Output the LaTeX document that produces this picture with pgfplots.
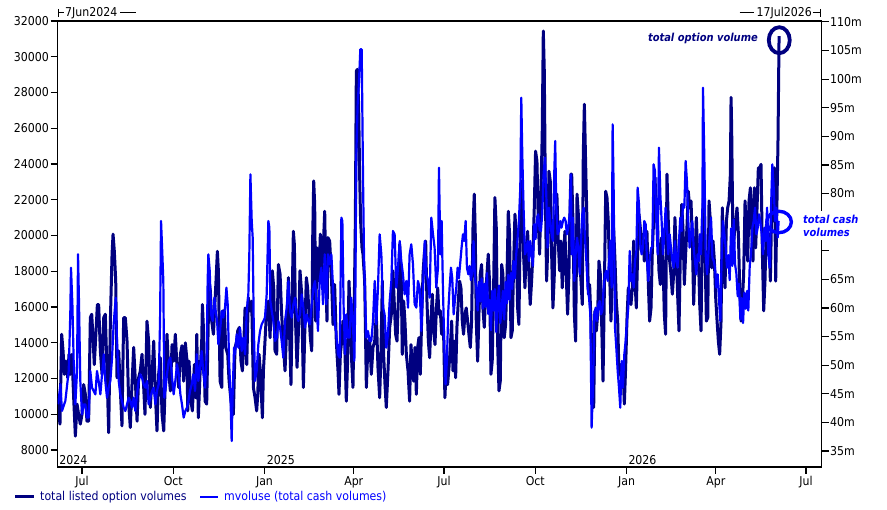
\documentclass[border=0pt]{standalone}
\usepackage{pgfplots}
\pgfplotsset{compat=1.18}
\usepackage{fontspec}
\setmainfont{DejaVu Sans Condensed}
\definecolor{navy}{RGB}{0,0,128}
\definecolor{cblue}{RGB}{0,0,255}
\newcommand{\lblfont}{\fontsize{12.2bp}{14bp}\selectfont}
\newcommand{\annfont}{\fontsize{11bp}{13bp}\selectfont\bfseries\itshape}
\begin{document}
\begin{tikzpicture}[x=1bp,y=1bp]
\path[use as bounding box] (0,0) rectangle (887,510);
% ---------- right axis: total listed option volumes (navy) ----------
\begin{axis}[
  at={(57.5bp,43bp)}, anchor=south west,
  scale only axis, width=764bp, height=446bp,
  xmin=-0.7, xmax=769.6, ymin=32.2, ymax=110.16,
  axis x line=none, axis y line*=right,
  ytick={35,40,45,50,55,60,65,70,75,80,85,90,95,100,105,110},
  yticklabels={35m,40m,45m,50m,55m,60m,65m,{},{},80m,85m,90m,95m,100m,105m,110m},
  tick align=outside, major tick length=7bp,
  tick style={black, line width=1.2bp},
  axis line style={black, line width=1.3bp},
  ticklabel style={font=\lblfont},
  yticklabel style={inner xsep=1.5bp},
  clip=true,
]
\addplot[navy, line width=3bp, line join=round, mark=none] coordinates {
(0,44.3)(0.5,41.7)(1.8,39.7)(3.5,55.4)(4.9,52.5)(6.2,48.4)(7.9,50.7)(9.6,47.8)(10.9,51.9)(12.2,48.4)(13.9,51.9)(15.6,44.3)(17.3,37.6)(19.0,43.2)(20.6,41.4)(22.3,39.7)(24.0,41.4)(25.7,46.6)(27.4,44.9)(29.0,40.2)(30.7,40.2)(32.4,58.3)(33.8,58.9)(35.1,54.8)(36.4,50.1)(37.8,54.8)(39.5,60.6)(40.8,60.6)(42.5,52.5)(44.2,48.4)(45.9,58.3)(47.5,58.9)(49.2,49.0)(50.9,38.2)(52.6,57.7)(54.3,69.4)(55.3,72.9)(56.6,69.9)(58.0,64.7)(59.3,47.8)(61.0,52.5)(62.7,45.5)(64.3,39.4)(66.0,58.3)(67.7,58.3)(69.4,54.2)(71.1,43.2)(72.7,39.1)(74.4,46.6)(76.1,53.1)(77.8,47.2)(79.5,40.2)(81.1,47.8)(82.8,49.0)(84.5,51.9)(86.2,46.1)(87.5,41.4)(89.5,57.7)(91.2,54.2)(92.9,42.6)(94.6,48.4)(96.3,54.2)(98.0,44.9)(99.6,38.5)(101.3,48.4)(103.0,51.3)(104.7,41.4)(106.4,38.5)(108.0,47.2)(109.7,55.4)(111.4,49.0)(113.1,45.5)(114.8,53.6)(116.4,50.7)(118.1,55.4)(119.8,49.6)(121.5,46.1)(123.2,51.9)(124.8,53.4)(126.5,47.2)(128.2,53.9)(129.9,50.7)
(130.6,42.0)(131.9,50.7)(133.9,43.7)(135.3,42.0)(137.3,50.1)(138.7,44.3)(139.7,55.4)(141.3,40.8)(143.0,48.4)(144.7,54.2)(145.4,60.6)(146.4,56.6)(148.1,43.7)(149.7,43.2)(150.7,51.9)(152.1,64.7)(153.4,63.0)(154.8,57.7)(156.5,55.4)(157.5,58.9)(159.1,64.7)(160.5,69.9)(161.5,66.5)(163.2,47.2)(164.9,46.1)(165.9,59.5)(167.5,59.5)(168.9,53.1)(170.9,51.9)(172.3,47.2)(173.6,44.9)(174.9,42.6)(176.6,41.4)(178.3,53.1)(180.0,54.2)(181.0,56.0)(182.7,56.6)(184.3,50.7)(185.7,49.0)(187.0,53.1)(188.4,60.0)(190.1,50.1)(191.7,61.8)(193.4,59.5)(195.1,61.2)(196.8,46.1)(198.5,44.3)(200.1,42.0)(201.2,44.9)(202.5,51.9)(203.8,49.0)(205.9,40.8)(206.9,49.0)(208.5,54.2)(210.2,60.0)(211.9,61.2)(213.6,54.8)(214.6,60.6)(215.9,66.5)(217.3,63.5)(218.6,52.5)(220.3,51.9)(222.0,67.6)(223.7,65.9)(225.3,58.9)(227.0,53.6)(228.7,49.0)(230.4,56.6)(232.1,65.3)(233.7,52.5)(234.7,46.6)(236.1,63.5)(237.1,73.4)(238.1,71.1)(239.5,56.6)(240.8,49.6)(242.1,55.4)(243.8,66.5)(245.5,62.4)(247.2,46.1)(248.9,57.7)(250.2,65.3)(251.5,63.5)(252.9,58.9)(254.2,54.8)(255.6,52.5)(256.6,72.3)(257.6,82.2)(258.6,78.1)
(259.6,57.7)(260.9,70.5)(262.9,64.7)(264.3,72.9)(265.3,65.9)(267.0,69.4)(268.7,76.9)(269.7,65.9)(271.0,57.7)(272.0,72.3)(273.7,71.7)(275.4,65.9)(277.1,57.1)(278.7,64.1)(280.4,54.2)(282.1,49.0)(283.1,44.9)(284.5,51.9)(285.8,54.2)(287.1,57.7)(288.8,54.2)(290.5,43.7)(291.8,50.7)(293.2,64.7)(294.5,58.9)(295.9,50.7)(297.2,46.1)(298.6,61.8)(299.6,75.2)(300.6,101.4)(301.6,101.7)(302.9,95.6)(303.9,83.4)(304.9,75.2)(306.3,70.5)(307.3,69.4)(309.0,64.7)(310.7,46.1)(312.3,53.6)(314.0,54.8)(315.7,48.4)(317.4,53.1)(319.1,54.2)(320.7,58.9)(322.4,49.6)(324.1,44.3)(325.4,51.9)(326.8,64.7)(328.1,51.9)(329.5,46.6)(330.8,42.6)(332.5,49.0)(334.2,56.6)(335.9,58.9)(337.5,66.5)(338.9,60.6)(340.2,55.4)(341.6,54.2)(342.9,61.2)(344.3,71.1)(345.9,64.7)(346.9,51.9)(348.3,61.2)(349.6,57.7)(351.0,51.9)(352.7,49.0)(354.3,43.7)(355.7,53.6)(357.0,49.6)(358.4,47.2)(359.7,53.1)(361.1,44.9)(362.4,53.1)(363.7,54.8)(365.1,48.4)(366.4,57.7)(367.8,65.9)(369.1,69.4)(370.5,71.7)(371.8,61.2)(373.2,54.2)(374.5,51.3)(375.8,57.7)(377.2,62.4)(378.5,56.0)(379.9,53.6)(381.2,59.5)(382.6,63.5)(383.9,58.9)(385.3,59.5)(386.6,55.4)(387.9,58.3)
(388.6,55.4)(389.9,44.3)(391.3,50.1)(392.6,46.6)(394.0,49.6)(395.3,53.1)(396.7,57.7)(398.0,49.0)(399.3,54.2)(400.7,47.8)(402.0,56.6)(403.4,61.2)(404.7,64.7)(406.1,63.5)(407.4,57.7)(408.7,55.4)(410.1,58.9)(411.4,60.0)(412.8,57.7)(414.1,55.4)(415.5,53.1)(416.8,57.7)(418.2,74.0)(419.5,79.9)(420.5,72.9)(421.5,57.7)(422.9,50.7)(424.2,58.9)(425.5,65.9)(426.9,67.6)(428.2,60.0)(429.6,56.6)(430.9,62.4)(432.3,65.9)(433.6,69.4)(435.0,64.1)(436.3,48.4)(437.6,50.7)(439.0,63.5)(440.3,79.3)(441.7,74.0)(443.0,54.2)(444.4,45.5)(445.7,47.2)(447.1,67.6)(448.4,65.9)(449.7,54.8)(451.1,57.1)(452.4,64.7)(453.8,76.9)(455.1,72.9)(456.5,54.8)(457.8,56.0)(459.1,67.0)(460.5,76.4)(461.8,72.9)(463.2,60.0)(464.5,57.1)(465.9,75.2)(466.9,82.2)(467.9,77.5)(469.2,69.4)(470.6,63.5)(471.9,70.5)(473.3,73.4)(474.6,65.9)(475.9,60.6)(477.3,64.7)(478.6,69.4)(480.0,77.5)(481.3,87.4)(482.7,85.7)(484.0,75.2)(485.4,69.4)(486.7,79.9)(488.0,90.4)(489.1,108.4)(490.1,101.4)(491.1,81.0)(492.4,64.7)(493.4,69.4)(494.8,83.9)(496.1,82.2)(497.5,69.4)(498.8,60.0)(500.1,65.3)(501.5,75.8)(502.8,79.9)(504.2,71.7)(505.5,66.5)(506.9,71.7)(508.2,63.5)(509.6,69.4)(510.9,73.4)(512.2,65.9)(513.6,58.9)(514.9,65.9)(516.3,79.3)(516.9,83.4)
(517.7,83.4)(519.0,75.2)(520.4,58.9)(521.7,54.2)(523.1,79.9)(524.4,76.4)(525.8,68.2)(527.1,64.7)(528.4,60.6)(529.4,86.8)(530.5,95.6)(531.8,85.1)(533.1,75.2)(534.5,62.4)(535.8,64.1)(537.2,57.7)(538.5,46.1)(539.9,42.6)(541.2,59.5)(542.6,56.0)(543.9,58.9)(545.2,68.2)(546.6,65.9)(547.9,57.7)(549.3,47.2)(550.6,62.4)(552.0,80.4)(553.3,79.3)(554.6,75.2)(556.0,65.9)(557.3,57.7)(558.7,64.7)(560.0,74.0)(561.4,68.2)(562.7,61.2)(564.1,57.7)(565.4,48.4)(566.7,50.1)(568.1,46.1)(569.4,49.6)(570.8,43.2)(572.1,49.6)(573.5,58.3)(574.8,63.5)(576.2,62.4)(577.5,60.6)(578.8,63.5)(580.2,71.7)(581.5,64.7)(582.9,60.0)(584.2,69.4)(585.6,76.4)(586.9,74.0)(588.2,69.9)(589.6,72.9)(590.9,68.2)(592.3,69.4)(593.6,73.4)(595.0,64.1)(596.3,57.7)(597.7,60.0)(599.0,69.9)(600.3,75.2)(601.7,82.8)(603.0,77.5)(604.4,74.0)(605.7,66.5)(607.1,64.1)(608.4,72.3)(609.8,68.2)(611.1,58.9)(612.4,55.4)(613.8,83.4)(615.1,75.2)(616.5,68.2)(617.8,65.9)(619.2,62.4)(620.5,65.9)(621.8,75.8)(623.2,69.4)(624.5,62.4)(625.9,56.0)(627.2,68.8)(628.6,78.1)(629.9,74.0)(631.3,64.1)(632.6,69.4)(633.9,74.0)(635.3,80.4)(636.6,77.5)(638.0,78.7)(639.3,72.3)(640.7,60.6)(642.0,68.2)(643.4,75.8)(644.7,69.4)(646.0,65.9)
(646.8,60.6)(648.1,56.0)(649.5,75.2)(650.8,79.9)(652.2,69.4)(653.5,57.7)(654.9,58.3)(656.2,78.7)(657.5,75.2)(658.9,67.0)(660.2,71.7)(661.6,68.2)(662.9,61.8)(664.3,57.7)(665.6,54.2)(666.9,51.9)(668.3,57.7)(669.6,77.5)(671.0,67.0)(672.3,63.5)(673.7,75.2)(675.0,77.5)(676.4,78.7)(677.7,83.4)(678.4,96.8)(679.0,91.5)(680.4,69.4)(681.7,72.9)(683.1,75.2)(684.4,77.5)(685.8,72.9)(687.1,63.5)(688.5,57.7)(689.8,61.2)(691.1,65.9)(692.5,78.7)(693.8,74.0)(695.2,68.2)(696.5,78.7)(697.9,81.0)(699.2,74.0)(700.5,68.2)(701.9,81.0)(703.2,70.5)(704.6,77.5)(705.9,84.5)(707.3,84.5)(708.6,85.1)(710.0,69.4)(711.3,59.5)(712.6,64.7)(714.0,74.6)(715.3,69.4)(716.7,72.9)(718.0,64.7)(719.4,77.5)(720.7,75.2)(722.1,84.5)(723.4,64.7)(724.7,78.7)(725.7,88.9)(726.8,107.5)
};
\draw[navy, line width=3.8bp] (axis cs:727,106.8) ellipse [x radius=10.5bp, y radius=13bp];
\end{axis}
% ---------- left axis: total cash volumes (blue), drawn on top ----------
\begin{axis}[
  at={(57.5bp,43bp)}, anchor=south west,
  scale only axis, width=764bp, height=446bp,
  xmin=-0.7, xmax=769.6, ymin=7046, ymax=32000,
  xtick={24,116,208,298,389,481,573,663,754},
  xticklabels={Jul,Oct,Jan,Apr,Jul,Oct,Jan,Apr,Jul},
  ytick={8000,10000,12000,14000,16000,18000,20000,22000,24000,26000,28000,30000,32000},
  yticklabels={8000,10000,12000,14000,16000,18000,20000,22000,24000,26000,28000,30000,32000},
  scaled y ticks=false,
  xtick pos=left, ytick pos=left, tick align=outside,
  major tick length=7bp,
  tick style={black, line width=1.2bp},
  axis line style={black, line width=1.3bp},
  ticklabel style={font=\lblfont},
  yticklabel style={inner xsep=1.5bp},
  xticklabel style={inner ysep=2.5bp},
  clip=true,
]
\addplot[cblue, line width=2.2bp, line join=round, mark=none] coordinates {
(0,10550)(2.2,11670)(3.8,10180)(7.2,10740)(10.6,12420)(12.2,15590)(12.9,18200)(14.3,16150)(15.6,12980)(17.3,10550)(19.0,12420)(20.0,18945)(21.0,16150)(22.3,11860)(24.0,9990)(25.7,10550)(27.4,10550)(29.0,9810)(30.7,9810)(32.4,12420)(34.1,11485)(35.8,11300)(37.5,11110)(39.1,12420)(40.8,11860)(42.5,11110)(44.2,12230)(45.9,13350)(47.5,11860)(49.2,10925)(50.9,11485)(52.6,11860)(54.3,13160)(55.9,15030)(58.0,16520)(59.3,14100)(61.0,11860)(62.7,11110)(64.3,10740)(66.0,10370)(67.7,10180)(69.4,10550)(71.1,10925)(72.7,10740)(74.4,10370)(76.1,10925)(77.8,10180)(79.5,11110)(81.1,11860)(82.8,12230)(84.5,12040)(86.2,11670)(87.9,11485)(89.6,11860)(91.2,10550)(92.9,10925)(94.6,11300)(96.3,11485)(98.0,10550)(99.6,11300)(101.3,11670)(102.7,15215)(103.7,20810)(105.0,18945)(106.0,17450)(107.0,10925)(108.4,11485)(109.7,12230)(111.4,12980)(113.1,13160)(114.8,12040)(116.4,11110)(118.1,11860)(119.8,12790)(121.5,12230)(123.2,11110)(124.8,10550)(126.5,9810)(128.2,10180)(129.9,10370)
(131.3,10740)(132.9,11300)(134.6,11670)(136.3,12230)(138.0,11300)(139.7,13350)(141.3,11860)(143.0,12600)(144.7,13540)(146.4,12230)(148.1,11485)(149.7,13350)(150.7,17450)(151.4,18945)(152.8,18010)(154.1,15590)(155.8,15215)(157.5,16520)(158.8,15775)(160.2,15215)(161.5,13910)(163.2,14656)(164.9,15775)(166.5,15402)(168.2,15961)(169.6,17080)(170.9,16150)(172.3,12980)(173.6,11110)(174.9,8500)(175.9,11110)(177.3,13720)(178.3,13350)(180.0,14470)(181.7,13720)(183.3,14840)(185.0,13540)(186.7,14283)(188.4,13350)(190.1,15775)(191.7,16707)(192.7,18945)(193.8,23420)(195.1,20810)(196.1,19877)(197.1,15215)(198.5,11860)(200.1,12420)(201.8,13910)(203.5,14656)(205.2,15029)(206.9,15215)(208.5,15402)(210.2,16707)(211.9,20810)(212.9,20437)(213.9,16334)(215.3,15775)(216.9,15215)(218.6,14096)(220.3,14283)(222.0,15215)(223.7,14842)(225.3,14096)(227.0,13164)(228.7,15215)(230.4,15961)(232.1,17450)(233.7,15775)(235.4,15402)(237.1,16148)(238.8,16520)(240.5,15588)(242.1,15215)(243.8,15588)(245.5,16707)(247.2,15961)(248.9,14842)(250.5,15588)(252.2,15215)(253.9,15029)(255.6,16148)(257.3,17080)(258.9,17450)
(259.9,16707)(261.9,14656)(263.6,17453)(265.3,18199)(267.0,16148)(268.7,18945)(270.3,16148)(272.0,18945)(273.7,18386)(275.4,18945)(277.1,17080)(278.7,15215)(280.4,14469)(282.1,13350)(283.8,13164)(285.5,20997)(286.5,20810)(287.8,15961)(289.2,13350)(290.5,15588)(292.2,14283)(293.9,14283)(295.5,16520)(297.2,15029)(298.6,12977)(299.6,16707)(300.6,24540)(301.9,27338)(303.3,28643)(304.6,30415)(306.0,30415)(307.3,23421)(308.3,18945)(309.3,16707)(310.7,14283)(312.3,14656)(314.0,14096)(315.7,14096)(317.4,15215)(319.1,17453)(320.7,15029)(322.4,17080)(324.1,20064)(325.8,18945)(327.5,15961)(329.1,15588)(330.8,13723)(332.5,14469)(334.2,16334)(335.9,17453)(337.5,20250)(339.2,20064)(340.9,17080)(342.6,18199)(344.3,19691)(345.9,18572)(347.6,17826)(349.3,16707)(351.0,17453)(352.7,15961)(354.3,18945)(356.0,19505)(357.7,18386)(359.4,16148)(361.1,15961)(362.7,17453)(364.4,17080)(366.1,14656)(367.8,17080)(369.5,19691)(371.1,17826)(372.8,17453)(374.5,16520)(376.2,20997)(377.9,20064)(379.5,19318)(381.2,17080)(382.9,18199)(383.9,23794)(385.3,18945)(386.6,20810)(387.9,17080)
(389.3,13723)(390.6,11672)(391.9,12977)(393.3,15775)(394.6,17080)(396.0,18199)(397.3,17600)(398.7,15588)(400.0,16400)(401.4,17080)(402.7,18199)(404.0,17600)(405.4,18500)(406.7,19318)(408.1,20064)(409.4,19691)(410.8,20810)(412.1,18199)(413.5,17826)(414.8,18300)(416.1,17500)(417.5,18013)(418.8,19691)(420.2,17600)(421.5,17080)(422.9,15800)(424.2,17400)(425.5,16300)(426.9,17600)(428.2,15900)(429.6,17300)(430.9,16000)(432.3,17900)(433.6,15600)(435.0,16400)(436.3,14700)(437.6,16900)(439.0,15800)(440.3,17000)(441.7,14600)(443.0,16200)(444.4,17200)(445.7,15100)(447.1,15900)(448.4,16900)(449.7,15300)(451.1,17400)(452.4,16200)(453.8,17800)(455.1,16400)(456.5,17900)(457.8,17000)(459.1,18572)(460.5,17600)(461.8,18945)(463.2,19878)(464.5,20810)(465.9,22675)(466.9,27710)(467.9,24540)(469.2,21556)(470.6,18945)(471.9,19132)(473.3,19691)(474.6,18572)(475.9,19691)(477.3,18945)(478.6,18300)(480.0,20624)(481.3,19800)(482.7,20997)(484.0,21183)(485.4,20300)(486.7,20251)(488.0,21183)(489.4,23421)(490.7,24354)(492.1,22302)(493.4,19318)(494.8,21556)(496.1,20810)(497.5,20064)(498.8,19691)(500.1,23421)(501.1,25286)(502.2,21556)(503.5,20064)(504.8,20251)(506.2,20810)(507.5,20437)(508.9,20810)(510.2,20997)(511.6,20810)(512.9,20064)(514.3,20437)(515.6,21183)(516.9,23421)
(517.7,18945)(519.0,20997)(520.4,17453)(521.7,18945)(523.1,19878)(524.4,19318)(525.8,17826)(527.1,19691)(528.4,21183)(529.8,21556)(531.1,19878)(532.5,18572)(533.8,17080)(535.2,16521)(536.5,15588)(537.8,9247)(539.2,11485)(540.5,15588)(541.9,15961)(543.2,15215)(544.6,16148)(545.9,16334)(547.3,15588)(548.6,15775)(549.9,17080)(551.3,17826)(552.6,18013)(554.0,17453)(555.3,18572)(556.7,19691)(558.0,17080)(559.0,26218)(560.0,22675)(561.4,14842)(562.7,13723)(564.1,12418)(565.4,11485)(566.7,10366)(568.1,12977)(569.4,11485)(570.8,13350)(572.1,14096)(573.5,15215)(574.8,15961)(576.2,19132)(577.5,17453)(578.8,17826)(580.2,17080)(581.5,18572)(582.9,19132)(584.2,22675)(585.6,21743)(586.9,19505)(588.2,18945)(589.6,19318)(590.9,20810)(592.3,20624)(593.6,18572)(595.0,17453)(596.3,18572)(597.7,19318)(599.0,19318)(600.3,23980)(601.7,23607)(603.0,20810)(604.4,18945)(605.7,24913)(607.1,22302)(608.4,20810)(609.8,18945)(611.1,20064)(612.4,21556)(613.8,20437)(615.1,18945)(616.5,20064)(617.8,19318)(619.2,18572)(620.5,18199)(621.8,19691)(623.2,18572)(624.5,18199)(625.9,19691)(627.2,20997)(628.6,20251)(629.9,21743)(631.3,21556)(632.6,24167)(633.9,23048)(635.3,20810)(636.6,19318)(638.0,20064)(639.3,20810)(640.7,19318)(642.0,18572)(643.4,17826)(644.7,18945)(646.0,18572)
(646.8,20064)(648.1,18945)(649.5,21556)(650.1,28270)(651.5,24167)(652.8,18945)(654.2,17826)(655.5,18945)(656.9,20064)(658.2,20997)(659.6,18759)(660.9,18572)(662.2,18199)(663.6,17080)(664.9,17826)(666.3,16334)(667.6,15215)(669.0,18945)(670.3,20810)(671.7,20064)(673.0,19300)(674.3,18200)(675.7,18900)(677.0,17500)(678.4,20400)(679.7,18300)(681.1,20900)(682.4,18400)(683.7,17900)(685.1,16600)(686.4,17300)(687.8,15300)(689.1,16500)(690.5,15100)(691.8,16800)(693.2,15900)(694.5,16900)(695.8,15800)(697.2,18300)(698.5,18945)(699.9,20437)(701.2,20810)(702.6,21556)(703.9,20064)(705.3,20437)(706.6,21183)(707.9,20810)(709.3,20064)(710.6,18945)(712.0,20437)(713.3,19691)(714.7,21556)(716.0,18945)(717.3,18199)(718.7,21556)(720.0,23980)(721.4,22675)(722.7,20810)(724.1,21556)(725.4,19878)(726.4,20810)
};
\node[anchor=south west, inner sep=0, font=\lblfont, yshift=2.5bp] at (axis cs:1.1,7046) {2024};
\node[anchor=south west, inner sep=0, font=\lblfont, yshift=2.5bp] at (axis cs:210.2,7046) {2025};
\node[anchor=south west, inner sep=0, font=\lblfont, yshift=2.5bp] at (axis cs:574.8,7046) {2026};
\draw[cblue, line width=3.4bp] (axis cs:726.8,20755) ellipse [x radius=12.3bp, y radius=10.7bp];
\end{axis}
% ---------- annotations ----------
\node[anchor=east, inner sep=0, text=navy, font=\annfont] at (758,472) {total option volume};
\node[anchor=west, fill=white, inner xsep=2bp, inner ysep=4bp, align=left, text=cblue, font=\annfont] at (801,284.5) {total cash\\volumes};
% ---------- date range markers ----------
\draw[line width=1bp] (58.3,501) -- (58.3,493);
\draw[line width=1bp] (58.3,497) -- (63.5,497);
\node[anchor=west, inner sep=0, font=\lblfont] at (65,497) {7Jun2024};
\draw[line width=1bp] (120,497) -- (136,497);
\draw[line width=1bp] (739.5,497) -- (753.5,497);
\node[anchor=east, inner sep=0, font=\lblfont] at (812,497) {17Jul2026};
\draw[line width=1bp] (812.5,497) -- (820.5,497);
\draw[line width=1bp] (820.5,501) -- (820.5,493);
% ---------- legend ----------
\draw[navy, line width=3bp] (15,13) -- (34,13);
\node[anchor=west, inner sep=0, text=navy, font=\lblfont] at (40,13) {total listed option volumes};
\draw[cblue, line width=2.2bp] (200,13) -- (218,13);
\node[anchor=west, inner sep=0, text=cblue, font=\lblfont] at (224,13) {mvoluse (total cash volumes)};
\end{tikzpicture}
\end{document}
